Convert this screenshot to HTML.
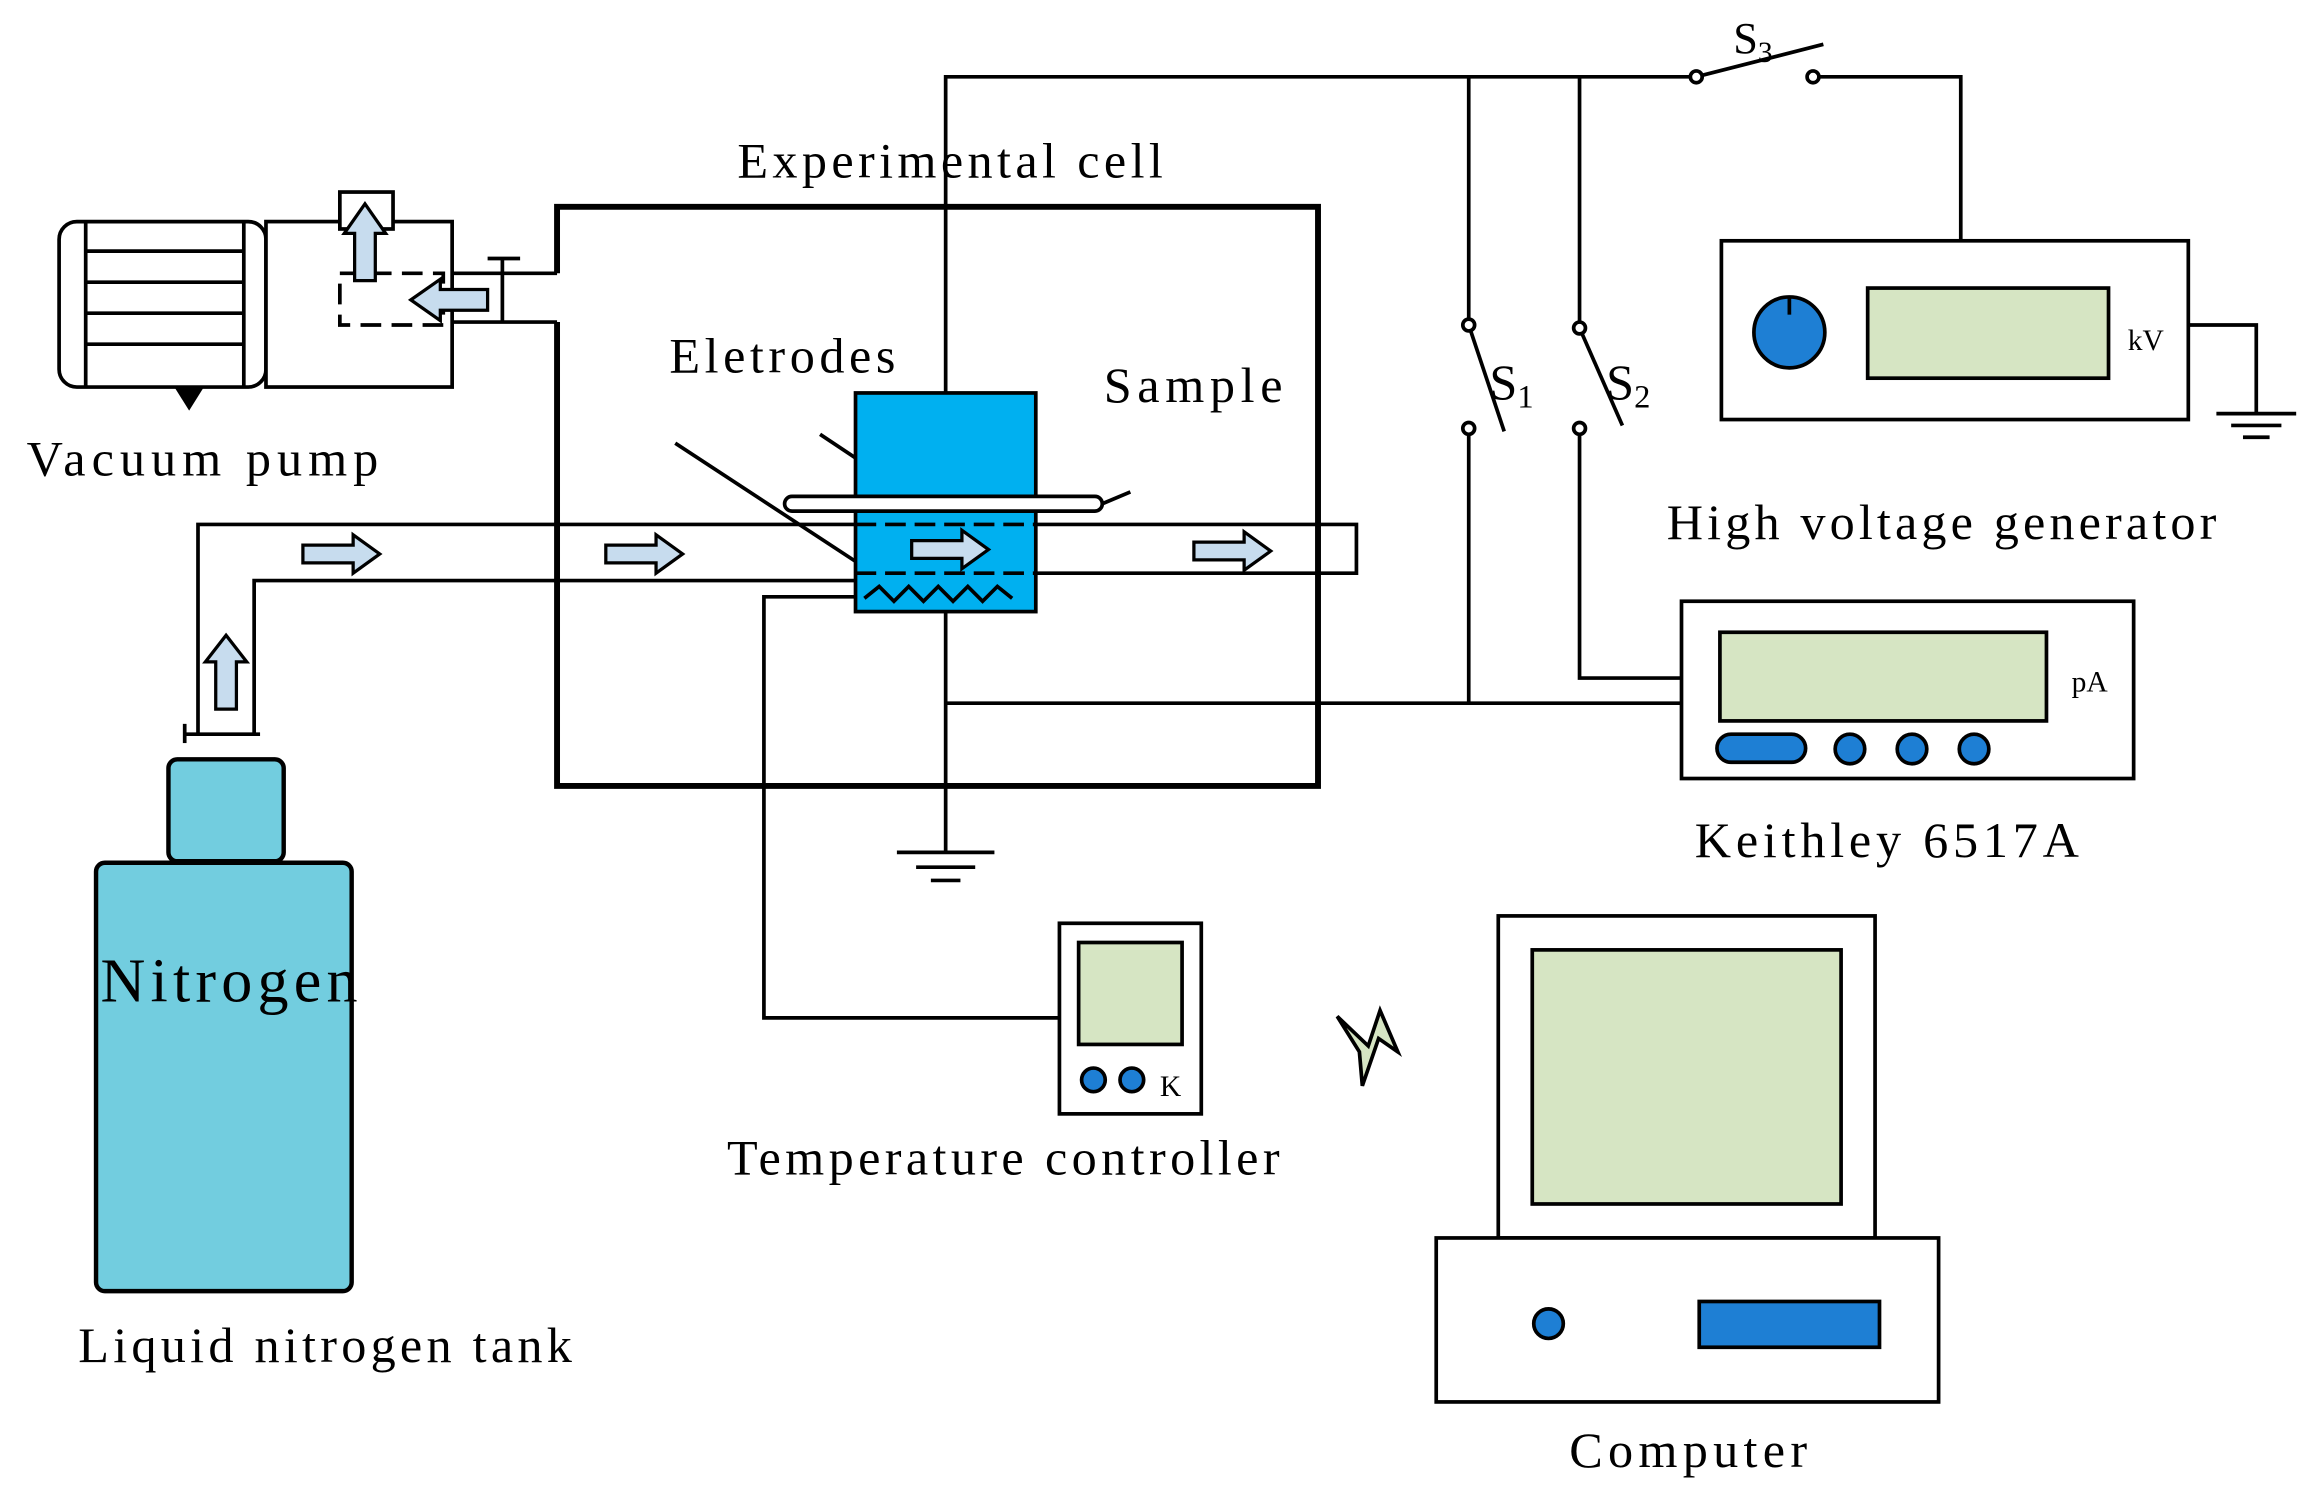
<!DOCTYPE html>
<html><head><meta charset="utf-8"><style>
html,body{margin:0;padding:0;background:#fff;}
svg{display:block;}
text{font-family:"Liberation Serif",serif;fill:#000;}
</style></head><body>
<svg width="2308" height="1495" viewBox="0 0 1562 1012" preserveAspectRatio="none" xmlns="http://www.w3.org/2000/svg">
<defs>
<g id="arR"><path d="M0,-6 H34 V-13 L52,0 L34,13 V6 H0 Z" fill="#c7dcee" stroke="#000" stroke-width="2.2"/></g>
</defs>
<g fill="none" stroke="#000" stroke-width="2.5">
<polyline points="640,267 640,52 1148,52"/>
<line x1="1148" y1="52" x2="1234" y2="30"/>
<polyline points="1227,52 1327,52 1327,163"/>
<polyline points="994,52 994,220"/>
<line x1="994" y1="220" x2="1018" y2="292"/>
<polyline points="994,290 994,476"/>
<polyline points="1069,52 1069,222"/>
<line x1="1069" y1="222" x2="1098" y2="288"/>
<polyline points="1069,290 1069,459 1138,459"/>
<line x1="640" y1="476" x2="1138" y2="476"/>
<line x1="640" y1="414" x2="640" y2="577"/>
<line x1="607" y1="577" x2="673" y2="577"/>
<line x1="620" y1="587" x2="660" y2="587"/>
<line x1="630" y1="596" x2="650" y2="596"/>
<polyline points="579,404 517,404 517,689 717,689"/>
</g>
<g fill="#fff" stroke="#000" stroke-width="2.5">
<circle cx="1148" cy="52" r="4"/><circle cx="1227" cy="52" r="4"/>
<circle cx="994" cy="220" r="4"/><circle cx="994" cy="290" r="4"/>
<circle cx="1069" cy="222" r="4"/><circle cx="1069" cy="290" r="4"/>
</g>
<polyline points="377,185 377,140 892,140 892,532 377,532 377,218" fill="none" stroke="#000" stroke-width="4"/>
<g fill="none" stroke="#000" stroke-width="2.5">
<line x1="306" y1="185" x2="377" y2="185"/>
<line x1="306" y1="218" x2="377" y2="218"/>
<line x1="340" y1="175" x2="340" y2="218"/>
<line x1="330" y1="175" x2="352" y2="175"/>
<polyline points="134,497 134,355 918,355 918,388 701,388"/>
<polyline points="172,497 172,393 579,393"/>
<line x1="457" y1="300" x2="579" y2="380"/>
<line x1="555" y1="294" x2="579" y2="310"/>
</g>
<rect x="579" y="266" width="122" height="71" fill="#00b0f0" stroke="#000" stroke-width="2.5"/>
<rect x="579" y="346" width="122" height="68" fill="#00b0f0" stroke="#000" stroke-width="2.5"/>
<rect x="531" y="336" width="215" height="10" rx="5" fill="#fff" stroke="#000" stroke-width="2.5"/>
<line x1="746" y1="341" x2="765" y2="333" stroke="#000" stroke-width="2.5"/>
<g stroke="#000" stroke-width="2.5" fill="none">
<line x1="579" y1="355" x2="701" y2="355" stroke-dasharray="14,6"/>
<line x1="579" y1="388" x2="701" y2="388" stroke-dasharray="14,6"/>
<polyline points="585,405 595,397 605,407 615,397 625,407 635,397 645,407 655,397 665,407 675,397 685,405"/>
</g>
<use href="#arR" x="205" y="375"/>
<use href="#arR" x="410" y="375"/>
<use href="#arR" x="617" y="372"/>
<use href="#arR" x="808" y="373"/>
<path d="M146,480 V448 H139 L153,430 L167,448 H160 V480 Z" fill="#c7dcee" stroke="#000" stroke-width="2.2"/>
<line x1="125" y1="497" x2="176" y2="497" stroke="#000" stroke-width="2.5"/>
<line x1="125" y1="490" x2="125" y2="503" stroke="#000" stroke-width="2.5"/>
<rect x="40" y="150" width="140" height="112" rx="12" fill="#fff" stroke="#000" stroke-width="2.5"/>
<g stroke="#000" stroke-width="2.5">
<line x1="58" y1="150" x2="58" y2="262"/>
<line x1="58" y1="170" x2="165" y2="170"/><line x1="58" y1="191" x2="165" y2="191"/>
<line x1="58" y1="212" x2="165" y2="212"/><line x1="58" y1="233" x2="165" y2="233"/>
<line x1="165" y1="150" x2="165" y2="262"/>
</g>
<rect x="180" y="150" width="126" height="112" fill="#fff" stroke="#000" stroke-width="2.5"/>
<rect x="230" y="130" width="36" height="25" fill="#fff" stroke="#000" stroke-width="2.5"/>
<rect x="230" y="185" width="70" height="35" fill="none" stroke="#000" stroke-width="2.5" stroke-dasharray="14,7"/>
<path d="M240,190 V158 H233 L247,138 L261,158 H254 V190 Z" fill="#c7dcee" stroke="#000" stroke-width="2.2"/>
<path d="M330,196 H298 V189 L278,203 L298,217 V210 H330 Z" fill="#c7dcee" stroke="#000" stroke-width="2.2"/>
<path d="M118,262 L138,262 L128,278 Z" fill="#000"/>
<rect x="114" y="514" width="78" height="69" rx="6" fill="#72cddf" stroke="#000" stroke-width="3"/>
<rect x="65" y="584" width="173" height="290" rx="6" fill="#72cddf" stroke="#000" stroke-width="3"/>
<rect x="717" y="625" width="96" height="129" fill="#fff" stroke="#000" stroke-width="2.5"/>
<rect x="730" y="638" width="70" height="69" fill="#d6e5c3" stroke="#000" stroke-width="2.5"/>
<circle cx="740" cy="731" r="8" fill="#1e7fd4" stroke="#000" stroke-width="2.5"/>
<circle cx="766" cy="731" r="8" fill="#1e7fd4" stroke="#000" stroke-width="2.5"/>
<text x="785" y="742" font-size="20">K</text>
<path d="M905,688 L926,708 L934,684 L946,712 L933,703 L922,735 L920,712 Z" fill="#d6e5c3" stroke="#000" stroke-width="2.5"/>
<rect x="1165" y="163" width="316" height="121" fill="#fff" stroke="#000" stroke-width="2.5"/>
<circle cx="1211" cy="225" r="24" fill="#1e7fd4" stroke="#000" stroke-width="2.5"/>
<line x1="1211" y1="201" x2="1211" y2="213" stroke="#000" stroke-width="2.5"/>
<rect x="1264" y="195" width="163" height="61" fill="#d6e5c3" stroke="#000" stroke-width="2.5"/>
<text x="1440" y="237" font-size="20">kV</text>
<g stroke="#000" stroke-width="2.5" fill="none">
<polyline points="1481,220 1527,220 1527,280"/>
<line x1="1500" y1="280" x2="1554" y2="280"/>
<line x1="1510" y1="288" x2="1544" y2="288"/>
<line x1="1518" y1="296" x2="1536" y2="296"/>
</g>
<rect x="1138" y="407" width="306" height="120" fill="#fff" stroke="#000" stroke-width="2.5"/>
<rect x="1164" y="428" width="221" height="60" fill="#d6e5c3" stroke="#000" stroke-width="2.5"/>
<text x="1402" y="468" font-size="20">pA</text>
<rect x="1162" y="497" width="60" height="19" rx="9.5" fill="#1e7fd4" stroke="#000" stroke-width="2.5"/>
<circle cx="1252" cy="507" r="10" fill="#1e7fd4" stroke="#000" stroke-width="2.5"/>
<circle cx="1294" cy="507" r="10" fill="#1e7fd4" stroke="#000" stroke-width="2.5"/>
<circle cx="1336" cy="507" r="10" fill="#1e7fd4" stroke="#000" stroke-width="2.5"/>
<rect x="1014" y="620" width="255" height="218" fill="#fff" stroke="#000" stroke-width="2.5"/>
<rect x="1037" y="643" width="209" height="172" fill="#d6e5c3" stroke="#000" stroke-width="2.5"/>
<rect x="972" y="838" width="340" height="111" fill="#fff" stroke="#000" stroke-width="2.5"/>
<circle cx="1048" cy="896" r="10" fill="#1e7fd4" stroke="#000" stroke-width="2.5"/>
<rect x="1150" y="881" width="122" height="31" fill="#1e7fd4" stroke="#000" stroke-width="2.5"/>
<g font-size="34">
<text x="499" y="120" textLength="288" lengthAdjust="spacing">Experimental cell</text>
<text x="453" y="252" textLength="153" lengthAdjust="spacing">Eletrodes</text>
<text x="747" y="272" textLength="121" lengthAdjust="spacing">Sample</text>
<text x="18" y="322" textLength="238" lengthAdjust="spacing">Vacuum pump</text>
<text x="68" y="678" font-size="42" textLength="174" lengthAdjust="spacing">Nitrogen</text>
<text x="53" y="922" textLength="334" lengthAdjust="spacing">Liquid nitrogen tank</text>
<text x="492" y="795" textLength="374" lengthAdjust="spacing">Temperature controller</text>
<text x="1128" y="365" textLength="372" lengthAdjust="spacing">High voltage generator</text>
<text x="1147" y="580" textLength="260" lengthAdjust="spacing">Keithley 6517A</text>
<text x="1062" y="993" textLength="161" lengthAdjust="spacing">Computer</text>
<text x="1008" y="270">S<tspan font-size="22" dy="6">1</tspan></text>
<text x="1087" y="270">S<tspan font-size="22" dy="6">2</tspan></text>
<text x="1173" y="36" font-size="30">S<tspan font-size="20" dy="6">3</tspan></text>
</g>
</svg>
</body></html>
